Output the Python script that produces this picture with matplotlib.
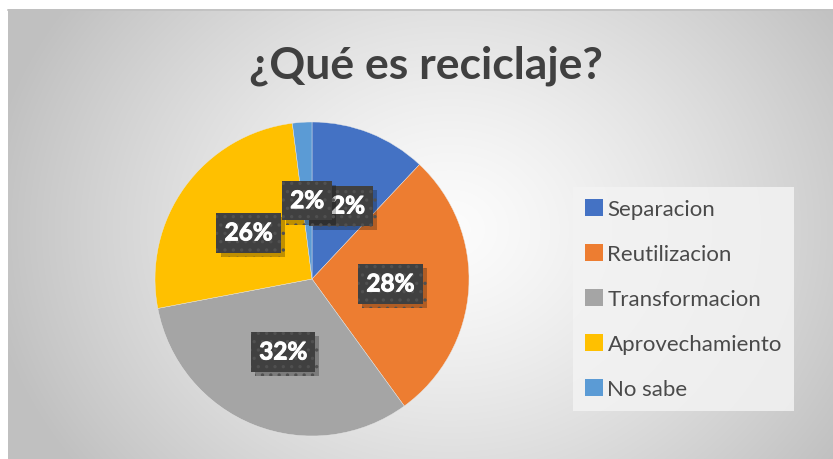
import numpy as np
import matplotlib
matplotlib.use("Agg")
import matplotlib.pyplot as plt
from matplotlib.patches import Patch
import matplotlib.patheffects as pe

categories = ["Separacion", "Reutilizacion", "Transformacion", "Aprovechamiento", "No sabe"]
values = [12, 28, 32, 26, 2]
colors = ["#4472C4", "#ED7D31", "#A5A5A5", "#FFC000", "#5B9BD5"]
title = "¿Qué es reciclaje?"

W, H = 833, 460
DPI = 100
fig = plt.figure(figsize=(W / DPI, H / DPI), dpi=DPI)
fig.patch.set_facecolor("white")

# background: radial grey gradient inside the chart area
bg = fig.add_axes([0, 0, 1, 1], zorder=-10)
bg.set_xlim(0, W)
bg.set_ylim(H, 0)
bg.axis("off")
yy, xx = np.mgrid[10:H, 8:W]
d = np.sqrt(((xx - 450) / 1.0) ** 2 + ((yy - 230) / 0.85) ** 2)
d = np.clip(d / 470.0, 0, 1)
shade = 252 - 60 * d ** 1.3
img = np.dstack([shade, shade, shade]) / 255.0
bg.imshow(img, extent=[8, W, H, 10], aspect="auto", interpolation="bilinear")
bg.plot([8, W], [10.5, 10.5], color="#c0c0c0", lw=1.2)

# pie
cx, cy, r = 312, 280, 157
ax = fig.add_axes([(cx - r) / W, (H - cy - r) / H, 2 * r / W, 2 * r / H])
ax.set_zorder(1)
wedges, _ = ax.pie(values, colors=colors, startangle=90, counterclock=False,
                   wedgeprops=dict(linewidth=0.3, edgecolor="#e8e8e8"))
ax.set_xlim(-1, 1)
ax.set_ylim(-1, 1)
ax.set_aspect("auto")

# data labels: dark dotted boxes with a soft shadow
plt.rcParams["hatch.linewidth"] = 1.2
for w, v in zip(wedges, values):
    ang = np.deg2rad((w.theta1 + w.theta2) / 2)
    x, y = 0.5 * np.cos(ang), 0.5 * np.sin(ang)
    t = ax.text(x, y, f"{v}%", ha="center", va="center", fontsize=17.5,
                fontweight="bold", family="Lato", color="white",
                path_effects=[pe.withStroke(linewidth=0.7, foreground="white")],
                bbox=dict(boxstyle="square,pad=0.34", fc="#404040", ec="#505050",
                          lw=0, hatch=".."))
    t.get_bbox_patch().set_path_effects(
        [pe.SimplePatchShadow(offset=(3, -3), shadow_rgbFace="black", alpha=0.25),
         pe.Normal()])

# title
fig.text(426 / W, 1 - 66 / H, title, ha="center", va="center", fontsize=32,
         fontweight="bold", family="Lato", color="#404040")

# legend
handles = [Patch(facecolor=c, edgecolor="none") for c in colors]
leg = fig.legend(handles, categories, loc="upper left",
                 bbox_to_anchor=(573 / W, 1 - 188 / H), frameon=True,
                 prop=dict(family="Lato", size=16), labelcolor="#4a4a4a",
                 handlelength=0.78, handleheight=0.78, handletextpad=0.22,
                 labelspacing=1.12, borderpad=0.55, borderaxespad=0)
fr = leg.get_frame()
fr.set_facecolor("#f3f3f3")
fr.set_edgecolor("none")
fr.set_alpha(0.85)
fr.set_boxstyle("square", pad=0)

fig.savefig("out.png", dpi=DPI)
